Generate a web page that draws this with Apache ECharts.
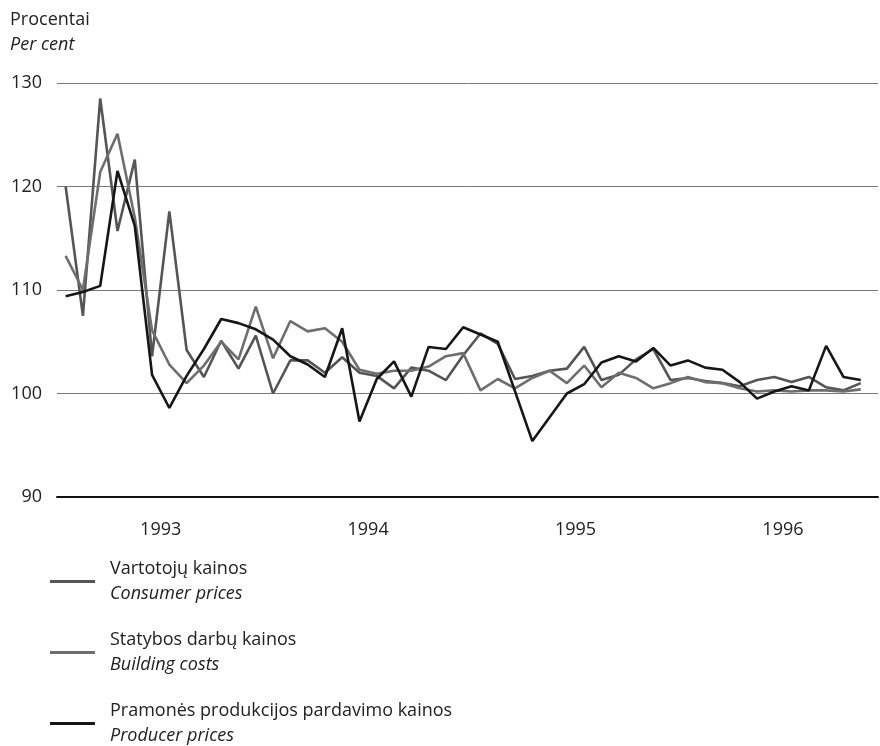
<!DOCTYPE html>
<html><head><meta charset="utf-8">
<script src="https://cdn.jsdelivr.net/npm/echarts@6/dist/echarts.min.js"></script>
<style>html,body{margin:0;padding:0;background:#fff}#c{width:880px;height:746px}</style>
</head><body><div id="c"></div>
<script>
const months = [
 '1993-01','1993-02','1993-03','1993-04','1993-05','1993-06','1993-07','1993-08','1993-09','1993-10','1993-11','1993-12',
 '1994-01','1994-02','1994-03','1994-04','1994-05','1994-06','1994-07','1994-08','1994-09','1994-10','1994-11','1994-12',
 '1995-01','1995-02','1995-03','1995-04','1995-05','1995-06','1995-07','1995-08','1995-09','1995-10','1995-11','1995-12',
 '1996-01','1996-02','1996-03','1996-04','1996-05','1996-06','1996-07','1996-08','1996-09','1996-10','1996-11'
];
const consumer = [
 120.0,107.5,128.5,115.7,122.6,103.6,117.6,104.2,101.6,105.1,102.4,105.6,
 100.0,103.2,103.2,102.0,103.5,102.0,101.7,100.5,102.5,102.2,101.3,103.7,
 105.8,104.8,101.4,101.7,102.2,102.4,104.5,101.3,101.8,103.3,104.3,101.3,
 101.5,101.2,101.0,100.7,101.3,101.6,101.1,101.6,100.6,100.3,101.0
];
const building = [
 113.3,110.0,121.4,125.1,117.0,106.1,102.8,101.0,102.7,105.0,103.3,108.4,
 103.4,107.0,106.0,106.3,105.0,102.3,101.9,102.2,102.2,102.6,103.6,103.9,
 100.3,101.4,100.5,101.5,102.2,101.0,102.7,100.6,102.0,101.5,100.5,101.0,
 101.6,101.1,101.0,100.5,100.2,100.3,100.2,100.3,100.3,100.2,100.4
];
const producer = [
 109.4,109.8,110.4,121.5,116.2,101.8,98.6,101.7,104.3,107.2,106.8,106.2,
 105.2,103.6,102.8,101.6,106.3,97.3,101.4,103.1,99.7,104.5,104.3,106.4,
 105.7,105.0,100.2,95.4,97.7,100.0,100.9,103.0,103.6,103.1,104.4,102.7,
 103.2,102.5,102.3,101.1,99.5,100.2,100.7,100.3,104.6,101.6,101.3
];
const yearLabels = ['1993','1994','1995','1996'];
const yTicks = [90,100,110,120,130];
const seriesNames = ['Vartotojų kainos','Statybos darbų kainos','Pramonės produkcijos pardavimo kainos'];
const seriesNamesEn = ['Consumer prices','Building costs','Producer prices'];

const FONT = '"Open Sans", sans-serif';
const toXY = arr => arr.map((v, i) => [i, v]);
const yearPos = yearLabels.map(y => months.indexOf(y + '-07') - 0.5);

const chart = echarts.init(document.getElementById('c'));
chart.setOption({
  animation: false,
  backgroundColor: '#fff',
  textStyle: { fontFamily: FONT },
  title: {
    text: 'Procentai', subtext: 'Per cent', left: 10, top: 11, itemGap: 7, padding: 0,
    textStyle: { fontFamily: FONT, fontSize: 18, fontWeight: 'normal', color: '#222' },
    subtextStyle: { fontFamily: FONT, fontSize: 18, fontStyle: 'italic', color: '#222' }
  },
  grid: { left: 57, right: 2, top: 83, bottom: 249, containLabel: false },
  xAxis: {
    type: 'value', min: -0.5, max: months.length,
    axisLine: { show: true, lineStyle: { color: '#111', width: 2 } },
    axisTick: { show: false },
    splitLine: { show: false },
    axisLabel: {
      customValues: yearPos, margin: 24, fontSize: 18, color: '#222', fontFamily: FONT,
      formatter: v => months[Math.round(v + 0.5)].slice(0, 4)
    }
  },
  yAxis: {
    type: 'value', min: yTicks[0], max: yTicks[yTicks.length - 1], interval: 10,
    axisLine: { show: false }, axisTick: { show: false },
    splitLine: { show: true, lineStyle: { color: '#7a7a7a', width: 1 } },
    axisLabel: { fontSize: 18, color: '#222', margin: 15, fontFamily: FONT }
  },
  legend: {
    orient: 'vertical', left: 50, top: 560, padding: 0, itemGap: 28,
    itemWidth: 45, itemHeight: 3, icon: 'rect',
    formatter: name => '{a|' + name + '}\n{b|' + seriesNamesEn[seriesNames.indexOf(name)] + '}',
    textStyle: {
      fontFamily: FONT,
      rich: {
        a: { fontSize: 18, lineHeight: 25, color: '#222', fontFamily: FONT, padding: [0, 0, 0, 10] },
        b: { fontSize: 18, lineHeight: 25, color: '#222', fontStyle: 'italic', fontFamily: FONT, padding: [0, 0, 0, 10] }
      }
    },
    data: seriesNames
  },
  series: [
    { name: seriesNames[0], type: 'line', data: toXY(consumer), symbol: 'none', z: 3,
      lineStyle: { color: '#555', width: 2.6 }, itemStyle: { color: '#555' } },
    { name: seriesNames[1], type: 'line', data: toXY(building), symbol: 'none', z: 4,
      lineStyle: { color: '#6e6e6e', width: 2.6 }, itemStyle: { color: '#6e6e6e' } },
    { name: seriesNames[2], type: 'line', data: toXY(producer), symbol: 'none', z: 5,
      lineStyle: { color: '#161616', width: 2.6 }, itemStyle: { color: '#161616' } }
  ]
});
</script></body></html>
